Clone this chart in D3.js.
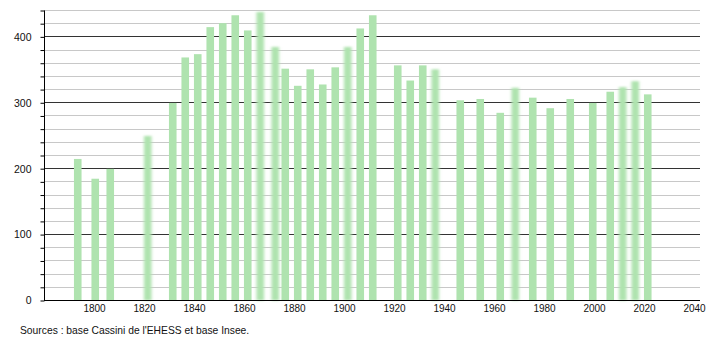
<!DOCTYPE html>
<html>
<head>
<meta charset="utf-8">
<script src="https://cdn.jsdelivr.net/npm/d3@7/dist/d3.min.js"></script>
<style>
  html, body { margin: 0; padding: 0; background: #fff; }
  svg { display: block; font-family: "Liberation Sans", Arial, sans-serif; }
</style>
</head>
<body>
<div id="chart"></div>
<script>
// Census years and population.
const years = [1793, 1800, 1806, 1821, 1831, 1836, 1841, 1846, 1851, 1856, 1861, 1866,
    1872, 1876, 1881, 1886, 1891, 1896, 1901, 1906, 1911, 1921, 1926, 1931, 1936,
    1946, 1954, 1962, 1968, 1975, 1982, 1990, 1999, 2006, 2011, 2016, 2021];
const population = [214, 184, 199, 249, 299, 368, 373, 414, 420, 432, 409, 437,
    384, 351, 325, 350, 327, 353, 384, 412, 432, 356, 333, 356, 350,
    303, 305, 284, 322, 307, 291, 305, 299, 316, 323, 332, 312];
// Years drawn soft-edged in the reference
const blurredYears = [1821, 1866, 1872, 1901, 1936, 1968, 2011, 2016];
const yTicks = [0, 100, 200, 300, 400];
const xTicks = [1800, 1820, 1840, 1860, 1880, 1900, 1920, 1940, 1960, 1980, 2000, 2020, 2040];
const sourceNote = "Sources : base Cassini de l'EHESS et base Insee.";

(function () {
    const width = 710, height = 340;
    const left = 44, right = 700, top = 10, bottom = 300;

    const x = d3.scaleLinear().domain([1780, 2042.4]).range([left, right]);
    const y = d3.scaleLinear().domain([0, 440]).range([bottom, top]);

    const svg = d3.select('#chart').append('svg')
        .attr('width', width)
        .attr('height', height);

    const defs = svg.append('defs');
    defs.append('filter')
        .attr('id', 'soft')
        .attr('x', '-100%').attr('width', '300%')
        .attr('y', '-5%').attr('height', '110%')
        .append('feGaussianBlur')
        .attr('stdDeviation', '1.6 1.2');

    // minor grid every 20, major every 100
    const minor = d3.range(20, 441, 20).filter((v) => v % 100 !== 0);
    svg.append('g').selectAll('line')
        .data(minor)
        .join('line')
        .attr('x1', left).attr('x2', right)
        .attr('y1', (d) => Math.round(y(d)) + 0.5)
        .attr('y2', (d) => Math.round(y(d)) + 0.5)
        .attr('stroke', '#c8c8c8');

    svg.append('g').selectAll('line')
        .data(yTicks.slice(1))
        .join('line')
        .attr('x1', left).attr('x2', right)
        .attr('y1', (d) => Math.round(y(d)) + 0.5)
        .attr('y2', (d) => Math.round(y(d)) + 0.5)
        .attr('stroke', '#333');

    // bars
    const data = years.map((yr, i) => ({ year: yr, value: population[i] }));
    const barW = 7.6;
    svg.append('g').selectAll('rect')
        .data(data)
        .join('rect')
        .attr('x', (d) => x(d.year + 0.5) - barW / 2)
        .attr('y', (d) => y(d.value))
        .attr('width', barW)
        .attr('height', (d) => y(0) - y(d.value) + 0.5)
        .attr('fill', '#afe3af')
        .attr('filter', (d) => blurredYears.includes(d.year) ? 'url(#soft)' : null);

    // y axis with small ticks every 20
    const yAxis = d3.axisLeft(y)
        .tickValues(d3.range(0, 441, 20))
        .tickSize(4)
        .tickPadding(6)
        .tickFormat((d) => yTicks.includes(d) ? d : '');
    const gy = svg.append('g')
        .attr('transform', `translate(${left + 0.5},0.5)`)
        .call(yAxis);
    gy.select('.domain').attr('d', `M0,${top}V${bottom}`).attr('stroke', '#000');
    gy.selectAll('.tick line').attr('stroke', '#000');
    gy.selectAll('.tick text')
        .attr('font-size', 10.5)
        .attr('font-family', '"Liberation Sans", Arial, sans-serif')
        .attr('fill', '#111')
        .attr('x', -13);

    // x axis
    const xAxis = d3.axisBottom(x)
        .tickValues(xTicks)
        .tickSize(0)
        .tickPadding(4)
        .tickFormat(d3.format('d'));
    const gx = svg.append('g')
        .attr('transform', `translate(0,${bottom + 0.5})`)
        .call(xAxis);
    gx.select('.domain').attr('d', `M${left},0H${right}`).attr('stroke', '#000');
    gx.selectAll('.tick text')
        .attr('font-size', 10)
        .attr('font-family', '"Liberation Sans", Arial, sans-serif')
        .attr('fill', '#111');

    svg.append('text')
        .attr('x', 20)
        .attr('y', 334)
        .attr('font-size', 10.3)
        .attr('fill', '#111')
        .text(sourceNote);
})();
</script>
</body>
</html>
